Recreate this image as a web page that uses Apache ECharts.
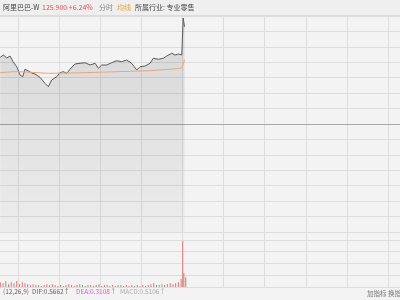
<!DOCTYPE html>
<html>
<head>
<meta charset="utf-8">
<script src="https://cdn.jsdelivr.net/npm/echarts@6/dist/echarts.min.js"></script>
<style>
html,body{margin:0;padding:0;background:#f3f3f3;}
#c{width:400px;height:300px;}
</style>
</head>
<body>
<div id="c"></div>
<script>
// ---- data (minutes since open, price) ----
const priceTimes = [17,19.2,21.7,24.1,26.3,29,31.4,33.4,35,37.2,39.9,42.3,46,49.6,52.1,54.5,58.2,60.6,63,65.5,67.9,71.5,75.2,78.9,82.5,86.2,88.6,91,94.7,98.3,102,105.6,109.3,112.9,116.6,119,122.7,126.3,128.7,132.4,136,138.5,142.2,144.6,147,149.5,150.5,151.5];
const prices = [123.17,123.33,123.12,123.26,122.86,122.51,121.93,121.81,122.33,122.23,122.07,122.00,121.77,121.35,121.11,121.58,121.81,122.09,122.16,122.05,122.33,122.70,122.75,122.79,122.63,122.75,122.40,122.63,122.63,122.79,122.93,122.86,122.98,122.75,122.28,122.51,122.56,122.75,123.10,123.03,123.10,123.26,123.45,123.33,123.40,123.33,125.92,125.31];
const avgTimes = [17,26,31,52,60,78,102,126,147,149.5,151.5];
const avgPrices = [122.09,122.16,122.16,122.05,122.06,122.09,122.16,122.23,122.38,122.42,123.00];
const prevClose = 118.5;
const volTimes = [17,19,21,23,25,27,29,31,33,35,37,39,41,43,45,47,49,51,53,55,57,59,61,63,65,67,69,71,73,75,77,79,81,83,85,87,89,91,93,95,97,99,101,103,105,107,109,111,113,115,117,119,121,123,125,127,129,131,133,135,137,139,141,143,145,147,149,150.2,151,152.4];
const volValues = [10,8,13,6,10,8,13,6,10,8,6,4,6,4,4,2,4,6,4,6,4,2,4,2,4,6,4,2,4,6,4,2,4,4,2,4,6,2,4,4,2,4,2,4,4,2,4,2,4,2,4,2,4,2,4,6,8,4,4,6,4,6,8,6,8,10,17,98,30,21];
const volDir = [1,0,1,1,0,1,1,0,1,1,0,1,1,0,1,0,1,1,0,1,1,0,1,0,1,1,0,1,1,1,0,1,0,1,1,0,1,0,1,1,0,1,1,0,1,0,1,1,0,1,0,1,1,0,1,1,1,0,1,1,0,1,1,1,0,1,1,1,1,0];

const chart = echarts.init(document.getElementById('c'));
const F = '"Noto Sans CJK SC","Noto Sans",sans-serif';
const gridColor = '#dddddd';
const X_MAX = 308.8;            // time at right edge
const GRID_LEFT = 18.1;         // pixel of the 30-min line
const X_DATA_MIN = 30 - GRID_LEFT * (X_MAX - 30) / (400 - GRID_LEFT); // time at left edge

function txt(x, y, s, color, size) {
  return {type:'text', left:x, top:y, style:{text:s, fill:color, font:(size||7)+'px '+F}, silent:true};
}
const hidX = (g) => ({type:'value', gridIndex:g, min:X_DATA_MIN, max:X_MAX, show:false, splitLine:{show:false}});
const splitY = (g, max) => ({type:'value', gridIndex:g, min:0, max:max, interval:1, axisLine:{show:false}, axisTick:{show:false}, axisLabel:{show:false}, splitLine:{show:true, lineStyle:{color:gridColor, width:1}}});

chart.setOption({
  backgroundColor:'#f3f3f3',
  animation:false,
  grid:[
    {left:0, right:0, top:16, height:216},
    {left:0, right:0, top:232, height:55},
    {left:GRID_LEFT, right:0, top:16, height:271}
  ],
  xAxis:[
    hidX(0), hidX(1),
    {type:'value', gridIndex:2, min:30, max:X_MAX, interval:30, axisLine:{show:false}, axisTick:{show:false}, axisLabel:{show:false}, splitLine:{show:true, lineStyle:{color:gridColor, width:1}}}
  ],
  yAxis:[
    {type:'value', gridIndex:0, min:110.94, max:126.06, show:false, splitLine:{show:false}},
    splitY(0, 14),
    {type:'value', gridIndex:1, min:0, max:117, show:false, splitLine:{show:false}},
    splitY(1, 4.68),
    {type:'value', gridIndex:2, min:0, max:1, show:false, splitLine:{show:false}}
  ],
  series:[
    {type:'line', xAxisIndex:0, yAxisIndex:0, data:priceTimes.map((t,i)=>[t,prices[i]]), symbol:'none', z:5,
     lineStyle:{color:'#5a5a5a', width:1},
     areaStyle:{origin:'start', color:{type:'linear', x:0, y:0, x2:0, y2:1, colorStops:[{offset:0,color:'rgba(0,0,0,0.17)'},{offset:1,color:'rgba(0,0,0,0.04)'}]}},
     markLine:{silent:true, symbol:'none', label:{show:false}, lineStyle:{color:'#a8a8a8', width:1, type:'solid'}, data:[{yAxis:prevClose}]}
    },
    {type:'line', xAxisIndex:0, yAxisIndex:0, data:avgTimes.map((t,i)=>[t,avgPrices[i]]), symbol:'none', z:6,
     lineStyle:{color:'#eba677', width:1}},
    {type:'bar', xAxisIndex:1, yAxisIndex:2, barWidth:1, z:5,
     data:volTimes.map((t,i)=>({value:[t,volValues[i]], itemStyle:{color: volDir[i] ? '#e07373' : '#58b07a'}}))}
  ],
  graphic:[
    {type:'rect', left:0, top:0, shape:{width:400, height:15}, style:{fill:'#efefef'}, silent:true, z:-1},
    {type:'rect', left:0, top:15, shape:{width:400, height:1}, style:{fill:'#dcdcdc'}, silent:true},
    txt(3, 4, '阿里巴巴-W', '#444'),
    txt(42, 4, '125.900 +6.24%', '#e05050'),
    txt(99, 4, '分时', '#888'),
    txt(117, 4, '均线', '#f0a030'),
    txt(135, 4, '所属行业: 专业零售', '#444'),
    txt(3, 288.5, '(12,26,9)', '#666', 6.5),
    txt(32, 288.5, 'DIF:0.5662↑', '#666', 6.5),
    txt(76, 288.5, 'DEA:0.3108↑', '#d65ad6', 6.5),
    txt(120, 288.5, 'MACD:0.5106↑', '#aaa', 6.5),
    txt(367, 290, '加指标 换指', '#777', 6.5)
  ]
});
</script>
</body>
</html>
